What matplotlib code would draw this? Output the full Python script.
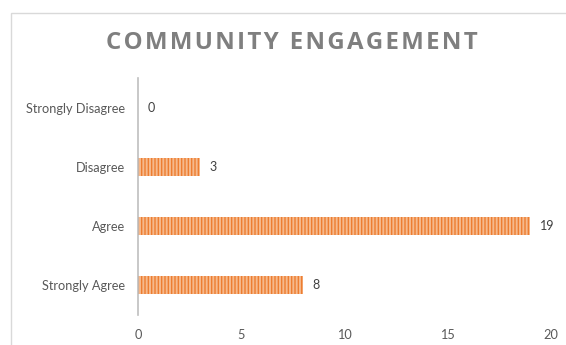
import matplotlib.pyplot as plt
from matplotlib.patches import Rectangle

categories = ["Strongly Agree", "Agree", "Disagree", "Strongly Disagree"]
counts = [8, 19, 3, 0]
xticks = [0, 5, 10, 15, 20]
title = "COMMUNITY ENGAGEMENT"

plt.rcParams['font.family'] = ['Lato', 'DejaVu Sans']
plt.rcParams['hatch.linewidth'] = 1.0

fig = plt.figure(figsize=(5.66, 3.45), dpi=100)
ax = fig.add_axes([0.2438, 0.087, 0.7297, 0.687])

bars = ax.barh(range(len(categories)), counts, height=0.3,
               color='#F6B98C', edgecolor='#ED7D31', hatch='|||||', linewidth=0)
for i, v in enumerate(counts):
    ax.text(v + 0.45, i, str(v), va='center', ha='left', fontsize=9, color='#404040')

ax.set_xlim(0, 20)
ax.set_ylim(-0.5, 3.5)
ax.set_xticks(xticks)
ax.set_yticks(range(len(categories)))
ax.set_yticklabels(categories)
ax.tick_params(axis='both', length=0, labelsize=9.2, colors='#595959')
ax.tick_params(axis='x', pad=10)
ax.tick_params(axis='y', pad=9)
for s in ['top', 'right', 'bottom']:
    ax.spines[s].set_visible(False)
ax.spines['left'].set_color('#BFBFBF')
ax.spines['left'].set_linewidth(1.2)

# spaced-out title letters
spaced = "\u200a".join(title)
fig.text(0.516, 0.875, spaced, ha='center', va='center',
         fontsize=17.3, fontweight='bold', color='#7F7F7F',
         family=['Open Sans', 'DejaVu Sans'])

# chart border (only top and left visible in the crop)
fig.add_artist(Rectangle((11 / 566, -0.1), 1.2, 1 - 13 / 345 + 0.1,
                         transform=fig.transFigure, fill=False,
                         edgecolor='#D9D9D9', linewidth=1))

fig.savefig('out.png', dpi=100)
